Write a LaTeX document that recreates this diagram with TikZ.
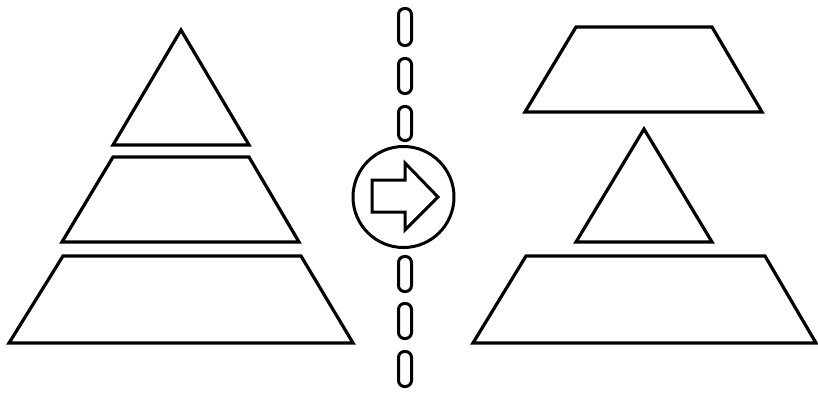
\documentclass[tikz,border=0pt]{standalone}
\begin{document}
\begin{tikzpicture}[x=1pt,y=-1pt,
  shape line/.style={draw=black,line width=3.2pt,line join=miter,fill=white},
  dashbox/.style={draw=black,line width=3pt,rounded corners=6pt}]
\useasboundingbox[fill=white] (0,0) rectangle (818,394);
% left pyramid
\draw[shape line] (181,30) -- (249,145) -- (113,145) -- cycle;
\draw[shape line] (113,157) -- (249,157) -- (299,242) -- (62,242) -- cycle;
\draw[shape line] (63,256) -- (301,256) -- (353,343) -- (9,343) -- cycle;
% right arrangement
\draw[shape line] (576,27) -- (712,27) -- (762,112) -- (525,112) -- cycle;
\draw[shape line] (644,129) -- (712,242) -- (576,242) -- cycle;
\draw[shape line] (526,256) -- (765,256) -- (816,343) -- (473,343) -- cycle;
% dashed separator
\foreach \ya/\yb in {8.5/45.5, 58.5/93.5, 106.5/140.5, 256.5/291.5, 303.5/338.5, 351.5/386.5}
  \draw[dashbox] (398.5,\ya) rectangle (411.5,\yb);
% circle with arrow
\draw[line width=3pt,fill=white] (403.5,197) circle (50.5);
\draw[line width=3pt,line join=miter] (372,180) -- (405,180) -- (405,163) -- (438,197) -- (405,230) -- (405,212) -- (372,212) -- cycle;
\end{tikzpicture}
\end{document}
